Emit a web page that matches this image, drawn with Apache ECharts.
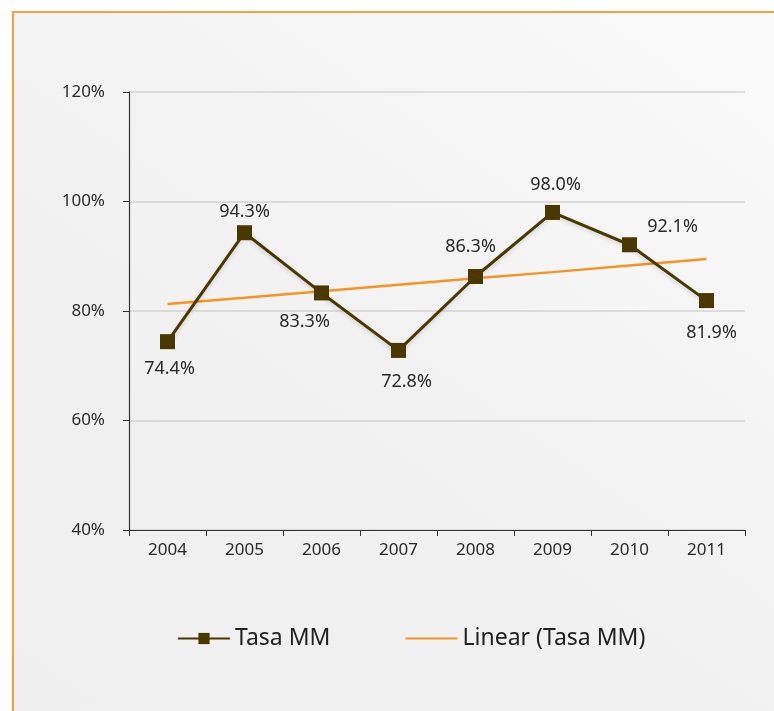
<!DOCTYPE html>
<html>
<head>
<meta charset="utf-8">
<script src="https://cdn.jsdelivr.net/npm/echarts@6/dist/echarts.min.js"></script>
<style>
  html, body { margin: 0; padding: 0; background: #fff; }
  #frame {
    position: absolute; left: 12px; top: 11px; width: 762px; height: 700px;
    border-left: 2px solid #f7a040; border-top: 2px solid #f7a040;
    background: linear-gradient(35deg, #efefef 0%, #f2f2f2 50%, #fafafa 100%);
  }
  #main { position: absolute; left: 0; top: 0; width: 760px; height: 698px; }
</style>
</head>
<body>
<div id="frame"><div id="main"></div></div>
<script>
// datos
const years = ['2004', '2005', '2006', '2007', '2008', '2009', '2010', '2011']
const tasaMM = [74.4, 94.3, 83.3, 72.8, 86.3, 98.0, 92.1, 81.9]
const linearTasa = [81.3, 82.4, 83.6, 84.8, 86.0, 87.1, 88.3, 89.5]
const yTicks = [40, 60, 80, 100, 120]

// posicion de cada etiqueta respecto al punto
const labelOffsets = [[2, 27], [0, -21], [-17, 29], [8, 31], [-5, -30], [3, -28], [43, -18], [5, 32]]

const myChart = echarts.init(document.getElementById('main'))
const font = '"Noto Sans", sans-serif'

myChart.setOption({
  animation: false,
  grid: { left: 115, right: 29, top: 79, bottom: 181 },
  legend: {
    left: 158,
    top: 609,
    itemWidth: 52,
    itemHeight: 14,
    itemGap: 74,
    textStyle: { fontFamily: font, fontSize: 23, color: '#222', padding: [0, 0, 0, 0] },
    data: [
      { name: 'Tasa MM' },
      { name: 'Linear (Tasa MM)', itemStyle: { opacity: 0 } }
    ]
  },
  xAxis: {
    type: 'category',
    data: years,
    boundaryGap: true,
    axisLine: { lineStyle: { color: '#333', width: 1.2 } },
    axisTick: { show: true, length: 6, lineStyle: { color: '#333' } },
    axisLabel: { fontFamily: font, fontSize: 17, color: '#2a2a2a', margin: 12 }
  },
  yAxis: {
    type: 'value',
    min: yTicks[0],
    max: yTicks[yTicks.length - 1],
    interval: 20,
    axisLine: { show: true, lineStyle: { color: '#333', width: 1.2 } },
    axisTick: { show: true, length: 6, lineStyle: { color: '#333' } },
    axisLabel: { fontFamily: font, fontSize: 17, color: '#2a2a2a', margin: 24, formatter: '{value}%' },
    splitLine: { lineStyle: { color: '#d6d2d2', width: 1.5 } }
  },
  series: [
    {
      name: 'Tasa MM',
      type: 'line',
      data: tasaMM.map((v, i) => ({
        value: v,
        label: { position: 'inside', offset: labelOffsets[i] }
      })),
      symbol: 'rect',
      symbolSize: 15,
      z: 3,
      itemStyle: { color: '#4a3800' },
      lineStyle: { color: '#4a3800', width: 3, shadowColor: 'rgba(0,0,0,0.15)', shadowBlur: 4, shadowOffsetY: 2 },
      label: {
        show: true,
        fontFamily: font,
        fontSize: 18,
        color: '#2a2a2a',
        formatter: (p) => p.value.toFixed(1) + '%'
      }
    },
    {
      name: 'Linear (Tasa MM)',
      type: 'line',
      data: linearTasa,
      symbol: 'none',
      z: 2,
      itemStyle: { color: '#f7931e' },
      lineStyle: { color: '#f7931e', width: 2.5 }
    }
  ]
})
</script>
</body>
</html>
